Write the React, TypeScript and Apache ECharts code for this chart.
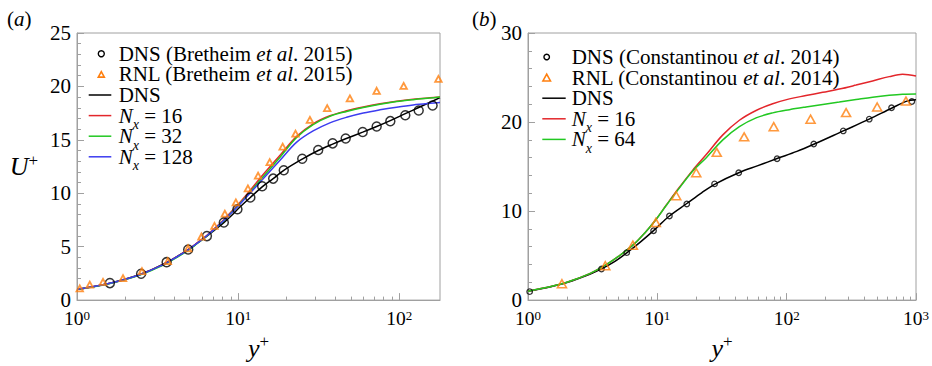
import React, { useEffect, useRef } from "react";
import * as echarts from "echarts";

const FONT = "Liberation Serif";
const GREY = "#a0a0a0";
const ORANGE = "#ff7f0e";
const RED = "#e3262b";
const GREEN = "#22c822";
const BLUE = "#3c3cf0";
const BLACK = "#000000";

// ---------- panel (a) ----------
const A_XMAX = 179;
const A_YMAX = 25;
const A_MAJOR_X = [1, 10, 100];
const A_MINOR_X = [2, 3, 4, 5, 6, 7, 8, 9, 20, 30, 40, 50, 60, 70, 80, 90];

const A_DNS_PTS_Y = [1.6, 2.5, 3.6, 4.9, 6.4, 8.15, 9.9, 11.9, 14.1, 16.5, 19.2, 25, 31.4, 38.6, 46.5, 59.3, 72.4, 88, 109, 132, 161];
const A_DNS_PTS_U = [1.59, 2.47, 3.55, 4.74, 5.99, 7.27, 8.5, 9.6, 10.65, 11.37, 12.16, 13.23, 14.05, 14.67, 15.12, 15.74, 16.25, 16.75, 17.3, 17.75, 18.21];

const A_RNL_Y = [1.04, 1.2, 1.45, 1.93, 2.53, 3.66, 4.89, 5.92, 7.13, 8.27, 9.68, 11.5, 13.3, 15.7, 18.9, 22.7, 27.9, 35.7, 49.4, 72.4, 106.5, 175];
const A_RNL_U = [1.1, 1.45, 1.7, 2.05, 2.7, 3.65, 4.85, 5.95, 6.95, 8.1, 9.15, 10.45, 11.65, 12.92, 14.36, 15.58, 16.87, 17.97, 18.88, 19.59, 20.05, 20.7];

const A_DNS_LINE_Y = [1, 1.25, 1.6, 2, 2.5, 3, 3.6, 4.2, 4.9, 5.6, 6.4, 7.2, 8.15, 9, 10, 11.9, 14.1, 16.5, 19.2, 25, 31.4, 38.6, 46.5, 59.3, 72.4, 88, 109, 132, 161, 179];
const A_DNS_LINE_U = [1.0, 1.25, 1.58, 1.97, 2.45, 2.95, 3.52, 4.1, 4.72, 5.35, 5.98, 6.6, 7.25, 7.85, 8.55, 9.6, 10.6, 11.37, 12.15, 13.2, 14.0, 14.6, 15.1, 15.72, 16.25, 16.8, 17.45, 18.03, 18.63, 18.95];

const A_NX_Y = [1, 1.25, 1.6, 2, 2.5, 3, 3.6, 4.2, 4.9, 5.6, 6.4, 7.2, 8.15, 9, 10, 12, 14.3, 18.2, 23, 29.2, 37.1, 47.1, 59.8, 75.9, 96.3, 122, 155, 179];
const A_NX16_U = [1.0, 1.24, 1.57, 1.95, 2.42, 2.92, 3.48, 4.08, 4.72, 5.38, 6.06, 6.76, 7.52, 8.22, 8.95, 10.35, 11.75, 13.55, 15.3, 16.5, 17.25, 17.72, 18.08, 18.38, 18.62, 18.8, 18.93, 19.0];
const A_NX32_U = [1.0, 1.23, 1.55, 1.92, 2.39, 2.88, 3.44, 4.03, 4.66, 5.32, 6.0, 6.69, 7.44, 8.12, 8.85, 10.2, 11.55, 13.38, 15.2, 16.43, 17.2, 17.66, 18.03, 18.33, 18.58, 18.76, 18.91, 19.0];
const A_NX128_U = [1.0, 1.24, 1.57, 1.95, 2.42, 2.92, 3.48, 4.08, 4.71, 5.35, 6.02, 6.7, 7.45, 8.1, 8.8, 10.1, 11.35, 13.08, 14.76, 15.83, 16.59, 17.11, 17.51, 17.81, 18.06, 18.27, 18.42, 18.49];

// ---------- panel (b) ----------
const B_XMAX = 1000;
const B_YMAX = 30;
const B_MAJOR_X = [1, 10, 100, 1000];
const B_MINOR_X = [2, 3, 4, 5, 6, 7, 8, 9, 20, 30, 40, 50, 60, 70, 80, 90, 200, 300, 400, 500, 600, 700, 800, 900];

const B_DNS_PTS_Y = [1.03, 3.7, 5.8, 9.35, 12.4, 16.9, 27.7, 42.6, 84.3, 162, 274, 435, 647, 929];
const B_DNS_PTS_U = [0.95, 3.49, 5.33, 7.79, 9.45, 10.8, 13.05, 14.3, 15.88, 17.53, 19.0, 20.32, 21.6, 22.3];

const B_RNL_Y = [1.83, 3.96, 6.47, 9.74, 14.0, 20.0, 28.8, 46.9, 79.4, 153, 288, 501, 836];
const B_RNL_U = [1.84, 3.86, 6.17, 8.71, 11.72, 14.3, 16.6, 18.34, 19.48, 20.32, 21.06, 21.69, 22.35];

const B_DNS_LINE_Y = [1, 1.5, 2, 3, 3.7, 4.7, 5.8, 7.5, 9.35, 12.4, 16.9, 22, 27.7, 42.6, 60, 84.3, 120, 162, 274, 435, 647, 850, 1000];
const B_DNS_LINE_U = [1.0, 1.5, 1.97, 2.9, 3.5, 4.35, 5.3, 6.6, 7.8, 9.45, 10.85, 12.05, 13.0, 14.3, 15.1, 15.9, 16.7, 17.5, 19.0, 20.32, 21.55, 22.35, 22.5];

const B_NX_Y = [1, 1.5, 2, 3, 4, 5, 6.5, 8, 9.7, 11.7, 14, 18.8, 23.9, 32.1, 43.1, 58, 78, 105, 141, 190, 255, 344, 462, 621, 787, 1000];
const B_NX16_U = [1.0, 1.52, 2.0, 2.98, 3.95, 4.9, 6.2, 7.55, 9.0, 10.65, 12.2, 14.6, 16.35, 18.56, 20.2, 21.3, 22.05, 22.6, 22.97, 23.34, 23.7, 24.15, 24.62, 25.1, 25.36, 25.17];
const B_NX64_U = [1.0, 1.52, 2.0, 2.98, 3.95, 4.9, 6.2, 7.55, 9.0, 10.62, 12.13, 14.5, 16.0, 18.0, 19.48, 20.47, 21.03, 21.39, 21.69, 21.97, 22.24, 22.52, 22.79, 23.0, 23.12, 23.15];

// legend labels
const A_LEGEND = [
  "DNS (Bretheim {i|et al}. 2015)",
  "RNL (Bretheim {i|et al}. 2015)",
  "DNS",
  "{i|N}{sub|x} = 16",
  "{i|N}{sub|x} = 32",
  "{i|N}{sub|x} = 128",
];
const B_LEGEND = [
  "DNS (Constantinou {i|et al}. 2014)",
  "RNL (Constantinou {i|et al}. 2014)",
  "DNS",
  "{i|N}{sub|x} = 16",
  "{i|N}{sub|x} = 64",
];

const lg = (v: number) => Math.log10(v);
const pts = (xs: number[], ys: number[]) => xs.map((x, i) => [lg(x), ys[i]]);

const textRich = {
  i: { fontSize: 21, fontFamily: FONT, fontStyle: "italic", lineHeight: 20, fill: "#000" },
  sub: { fontSize: 14, fontFamily: FONT, fontStyle: "italic", lineHeight: 8, verticalAlign: "top", padding: [12, 0, 0, 0], fill: "#000" },
};

function legendGraphics(
  lx0: number, lx1: number, mx: number, tx: number, y0: number, dy: number,
  labels: string[], kinds: { k: string; c: string; s: number }[]
) {
  const out: any[] = [];
  labels.forEach((lab, i) => {
    const y = y0 + dy * i;
    const kd = kinds[i];
    if (kd.k === "circle") {
      out.push({ type: "circle", shape: { cx: mx, cy: y, r: kd.s / 2 }, style: { fill: "none", stroke: kd.c, lineWidth: 1.4 } });
    } else if (kd.k === "triangle") {
      const w = kd.s, h = kd.s * 0.9;
      out.push({
        type: "polygon",
        shape: { points: [[mx, y - h / 2], [mx - w / 2, y + h / 2], [mx + w / 2, y + h / 2]] },
        style: { fill: "none", stroke: kd.c, lineWidth: 1.6 },
      });
    } else {
      out.push({ type: "line", shape: { x1: lx0, y1: y, x2: lx1, y2: y }, style: { stroke: kd.c, lineWidth: 1.5 } });
    }
    out.push({
      type: "text",
      x: tx,
      y,
      style: {
        text: lab,
        fontSize: 21,
        fontFamily: FONT,
        fill: "#000",
        lineHeight: 20,
        align: "left",
        verticalAlign: "middle",
        rich: textRich,
      },
    });
  });
  return out;
}

const tickRich = {
  b: { fontSize: 19.5, fontFamily: FONT, color: "#000", lineHeight: 18 },
  s: { fontSize: 13, fontFamily: FONT, color: "#000", lineHeight: 10, verticalAlign: "top" },
};
const nameRich = {
  i: { fontSize: 26, fontFamily: FONT, fontStyle: "italic", color: "#000", lineHeight: 30 },
  s: { fontSize: 17, fontFamily: FONT, color: "#000", lineHeight: 17, verticalAlign: "top" },
};

function xAxes(grid: number, xmax: number, major: number[], minor: number[]) {
  return [
    {
      gridIndex: grid,
      type: "value",
      min: 0,
      max: lg(xmax),
      position: "bottom",
      axisLine: { show: true, onZero: false, lineStyle: { color: GREY, width: 1 } },
      axisTick: { show: true, inside: true, length: 7, customValues: major.map(lg), lineStyle: { color: GREY } },
      axisLabel: {
        show: true,
        customValues: major.map(lg),
        margin: 9,
        fontFamily: FONT,
        formatter: (v: number) => (Math.abs(v - Math.round(v)) < 1e-6 ? `{b|10}{s|${Math.round(v)}}` : ""),
        rich: tickRich,
      },
      splitLine: { show: false },
      name: "{i|y}{s|+}",
      nameLocation: "middle",
      nameGap: 27,
      nameTextStyle: { fontFamily: FONT, rich: nameRich },
    },
    {
      gridIndex: grid,
      type: "value",
      min: 0,
      max: lg(xmax),
      position: "bottom",
      axisLine: { show: false, onZero: false },
      axisTick: { show: true, inside: true, length: 3.5, customValues: minor.map(lg), lineStyle: { color: GREY } },
      axisLabel: { show: false },
      splitLine: { show: false },
    },
  ];
}

function yAxis(grid: number, ymax: number, interval: number, withName: boolean) {
  return {
    gridIndex: grid,
    type: "value",
    min: 0,
    max: ymax,
    interval,
    axisLine: { show: true, onZero: false, lineStyle: { color: GREY, width: 1 } },
    axisTick: { show: true, inside: true, length: 7, lineStyle: { color: GREY } },
    minorTick: { show: true, splitNumber: 5, length: 4, lineStyle: { color: GREY } },
    axisLabel: { color: "#000", fontSize: 21, fontFamily: FONT, margin: 6, lineHeight: 14 },
    splitLine: { show: false },
    minorSplitLine: { show: false },
    name: withName ? "{i|U}{s|+}" : "",
    nameLocation: "middle",
    nameRotate: 0,
    nameGap: 39,
    nameTextStyle: { fontFamily: FONT, rich: nameRich },
  };
}

function lineSeries(x: number, y: number, name: string, data: number[][], color: string) {
  return {
    type: "line",
    name,
    xAxisIndex: x,
    yAxisIndex: y,
    data,
    symbol: "none",
    showSymbol: false,
    smooth: 0.35,
    lineStyle: { color, width: 1.5 },
    z: 2,
  };
}

function scatterSeries(x: number, y: number, name: string, data: number[][], symbol: string, size: any, color: string, bw: number) {
  return {
    type: "scatter",
    name,
    xAxisIndex: x,
    yAxisIndex: y,
    data,
    symbol,
    symbolSize: size,
    itemStyle: { color: "transparent", borderColor: color, borderWidth: bw },
    z: 3,
  };
}

export default function App() {
  const ref = useRef<HTMLDivElement>(null);
  useEffect(() => {
    if (!ref.current) return;
    const chart = echarts.init(ref.current, undefined, { renderer: "svg" });
    const graphic: any[] = [
      {
        type: "text", x: 7, y: 19,
        style: { text: "({i|a})", fontSize: 21, fontFamily: FONT, fill: "#000", lineHeight: 20, align: "left", verticalAlign: "middle", rich: textRich },
      },
      {
        type: "text", x: 472, y: 19,
        style: { text: "({i|b})", fontSize: 21, fontFamily: FONT, fill: "#000", lineHeight: 20, align: "left", verticalAlign: "middle", rich: textRich },
      },
      ...legendGraphics(88.7, 111.3, 101.3, 118.7, 53.8, 20.6, A_LEGEND, [
        { k: "circle", c: BLACK, s: 6 },
        { k: "triangle", c: ORANGE, s: 6 },
        { k: "line", c: BLACK, s: 0 },
        { k: "line", c: RED, s: 0 },
        { k: "line", c: GREEN, s: 0 },
        { k: "line", c: BLUE, s: 0 },
      ]),
      ...legendGraphics(542.3, 565.7, 546.7, 571.7, 57, 20.6, B_LEGEND, [
        { k: "circle", c: BLACK, s: 5.5 },
        { k: "triangle", c: ORANGE, s: 7.5 },
        { k: "line", c: BLACK, s: 0 },
        { k: "line", c: RED, s: 0 },
        { k: "line", c: GREEN, s: 0 },
      ]),
    ];
    chart.setOption({
      animation: false,
      backgroundColor: "#fff",
      textStyle: { fontFamily: FONT },
      grid: [
        { left: 77, top: 33, width: 363, height: 273, show: true, borderColor: GREY, borderWidth: 1, backgroundColor: "transparent" },
        { left: 528, top: 33, width: 389, height: 272, show: true, borderColor: GREY, borderWidth: 1, backgroundColor: "transparent" },
      ],
      xAxis: [...xAxes(0, A_XMAX, A_MAJOR_X, A_MINOR_X), ...xAxes(1, B_XMAX, B_MAJOR_X, B_MINOR_X)],
      yAxis: [yAxis(0, A_YMAX, 5, true), yAxis(1, B_YMAX, 10, false)],
      graphic,
      series: [
        lineSeries(0, 0, "DNS", pts(A_DNS_LINE_Y, A_DNS_LINE_U), BLACK),
        lineSeries(0, 0, "Nx = 16", pts(A_NX_Y, A_NX16_U), RED),
        lineSeries(0, 0, "Nx = 32", pts(A_NX_Y, A_NX32_U), GREEN),
        lineSeries(0, 0, "Nx = 128", pts(A_NX_Y, A_NX128_U), BLUE),
        scatterSeries(0, 0, "DNS (Bretheim et al. 2015)", pts(A_DNS_PTS_Y, A_DNS_PTS_U), "circle", 9, BLACK, 1.5),
        scatterSeries(0, 0, "RNL (Bretheim et al. 2015)", pts(A_RNL_Y, A_RNL_U), "triangle", [6.5, 6], ORANGE, 1.8),
        lineSeries(2, 1, "DNS", pts(B_DNS_LINE_Y, B_DNS_LINE_U), BLACK),
        lineSeries(2, 1, "Nx = 16", pts(B_NX_Y, B_NX16_U), RED),
        lineSeries(2, 1, "Nx = 64", pts(B_NX_Y, B_NX64_U), GREEN),
        scatterSeries(2, 1, "DNS (Constantinou et al. 2014)", pts(B_DNS_PTS_Y, B_DNS_PTS_U), "circle", 5.5, BLACK, 1.3),
        scatterSeries(2, 1, "RNL (Constantinou et al. 2014)", pts(B_RNL_Y, B_RNL_U), "triangle", [9, 8], ORANGE, 1.6),
      ],
    });
    return () => chart.dispose();
  }, []);
  return <div ref={ref} style={{ position: "absolute", left: 0, top: 0, width: 932, height: 366 }} />;
}
